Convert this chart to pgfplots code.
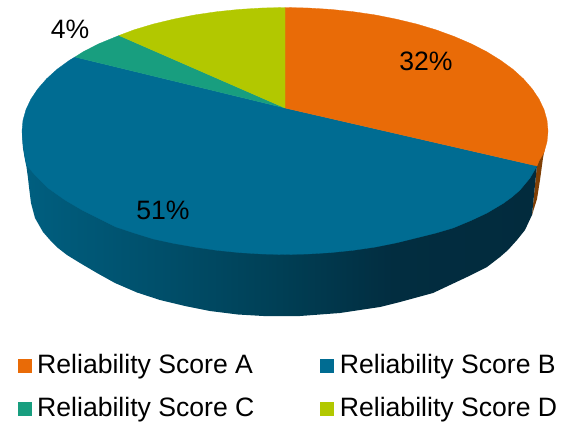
\documentclass[border=0pt]{standalone}
\usepackage{pgfplots}
\pgfplotsset{compat=1.18}
\usepackage{fontspec}
\setmainfont{Liberation Sans}

\definecolor{scoreA}{HTML}{E96B07}
\definecolor{scoreB}{HTML}{006C92}
\definecolor{scoreC}{HTML}{189E7F}
\definecolor{scoreD}{HTML}{B2C800}
\definecolor{rimA}{HTML}{7F3F05}
\definecolor{rimB1}{HTML}{005F80}
\definecolor{rimB2}{HTML}{00506C}
\definecolor{rimB3}{HTML}{003F55}
\definecolor{rimB4}{HTML}{022D40}
\definecolor{rimB5}{HTML}{022B3D}

% Rim of the disc: light at the left, dark towards the right
\pgfdeclarehorizontalshading{discrim}{100bp}{
  color(0bp)=(rimB1); color(25bp)=(rimB1); color(37.5bp)=(rimB2);
  color(50bp)=(rimB3); color(61bp)=(rimB4); color(75bp)=(rimB5); color(100bp)=(rimB5)}

\begin{document}
\begin{tikzpicture}
\useasboundingbox (0,0) rectangle (565pt,421pt);
\begin{axis}[
  at={(0,0)}, anchor=south west,
  scale only axis, width=565pt, height=421pt,
  xmin=0, xmax=565, ymin=0, ymax=421, y dir=reverse,
  hide axis, clip=false]

% Rim of the disc
\addplot[draw=none, fill=rimA] coordinates {
  (537,165) (548,131) (546,142) (543,158) (540,180) (537,199) (532,215)} -- cycle;
\addplot[draw=none, shade, shading=discrim] coordinates {
  (22,131) (23,148) (24.5,157) (26.5,167) (28,178) (29,187) (31,203) (35,218)
  (43,232) (50,240) (58,248) (67,255) (80,263) (97,273) (115,283) (137,292.5)
  (160,300) (185,306) (210,311) (238,314.5) (267,316.2) (300,316) (340,313)
  (380,307) (400,302) (433,293) (467,277) (487,267) (500,257) (508,250)
  (517,240) (525,230) (532,215) (537,165)} -- cycle;

% Top face: Score B
\addplot[draw=scoreB, line width=0.3pt, fill=scoreB] coordinates {
  (285,108) (537,166) (530,178) (520,190) (512,197) (503,203.5) (487,213)
  (471,220.5) (453,228) (436,233) (420,237) (396.1,242.9)
  (375,247.1) (353.1,250.3) (330.7,252.6) (307.9,254) (285,254.5) (262.1,254)
  (239.3,252.6) (216.9,250.3) (195,247.1) (173.9,243.4) (153.5,239) (134.1,233)
  (116,227) (99,218.5) (82,210) (65,200) (48,188) (35,175)
  (26.5,165) (25,157) (23,145) (22,131) (23,120.2) (26,109.6) (31,99) (37.9,88.8)
  (46.6,78.8) (57.2,69.2) (69.6,60.2) (75,57)} -- cycle;

% Top face: Score A
\addplot[draw=scoreA, line width=0.3pt, fill=scoreA] coordinates {
  (285,108) (285,7.5) (307.9,8) (330.7,9.4) (353.1,11.7) (375,14.9) (396.1,19.1)
  (416.5,24) (435.9,29.8) (454,36.4) (471,43.7) (486.5,51.6) (500.4,60.2)
  (512.8,69.2) (523.4,78.8) (532.1,88.8) (539,99) (544,109.6) (547,120.2)
  (548,131) (547,141.8) (544,152.4) (539,161) (537,166)} -- cycle;

% Top face: Score C
\addplot[draw=scoreC, line width=0.3pt, fill=scoreC] coordinates {
  (285,108) (75,57) (83.5,51.6) (99,43.7) (119,35.5)} -- cycle;

% Top face: Score D
\addplot[draw=scoreD, line width=0.3pt, fill=scoreD] coordinates {
  (285,108) (119,35.5) (134.1,29.8) (153.5,24) (173.9,19.1) (195,14.9)
  (216.9,11.7) (239.3,9.4) (262.1,8) (285,7.5)} -- cycle;

% Share labels
\node[anchor=center, font=\fontsize{26.6}{30}\selectfont] at (axis cs:426,61) {32\%};
\node[anchor=center, font=\fontsize{26.6}{30}\selectfont] at (axis cs:163,210) {51\%};
\node[anchor=center, font=\fontsize{26.6}{30}\selectfont] at (axis cs:70,29) {4\%};

% Legend
\addplot[draw=none, fill=scoreA] coordinates {(18.3,359) (32.3,359) (32.3,373) (18.3,373)} -- cycle;
\addplot[draw=none, fill=scoreB] coordinates {(320,359) (334,359) (334,373) (320,373)} -- cycle;
\addplot[draw=none, fill=scoreC] coordinates {(18.3,402) (32.3,402) (32.3,416) (18.3,416)} -- cycle;
\addplot[draw=none, fill=scoreD] coordinates {(320,402) (334,402) (334,416) (320,416)} -- cycle;
\node[anchor=base west, inner sep=0pt, font=\fontsize{26.6}{30}\selectfont] at (axis cs:37,373.5) {Reliability Score A};
\node[anchor=base west, inner sep=0pt, font=\fontsize{26.6}{30}\selectfont] at (axis cs:339.7,373.5) {Reliability Score B};
\node[anchor=base west, inner sep=0pt, font=\fontsize{26.6}{30}\selectfont] at (axis cs:37,416.5) {Reliability Score C};
\node[anchor=base west, inner sep=0pt, font=\fontsize{26.6}{30}\selectfont] at (axis cs:339.7,416.5) {Reliability Score D};
\end{axis}
\end{tikzpicture}
\end{document}
